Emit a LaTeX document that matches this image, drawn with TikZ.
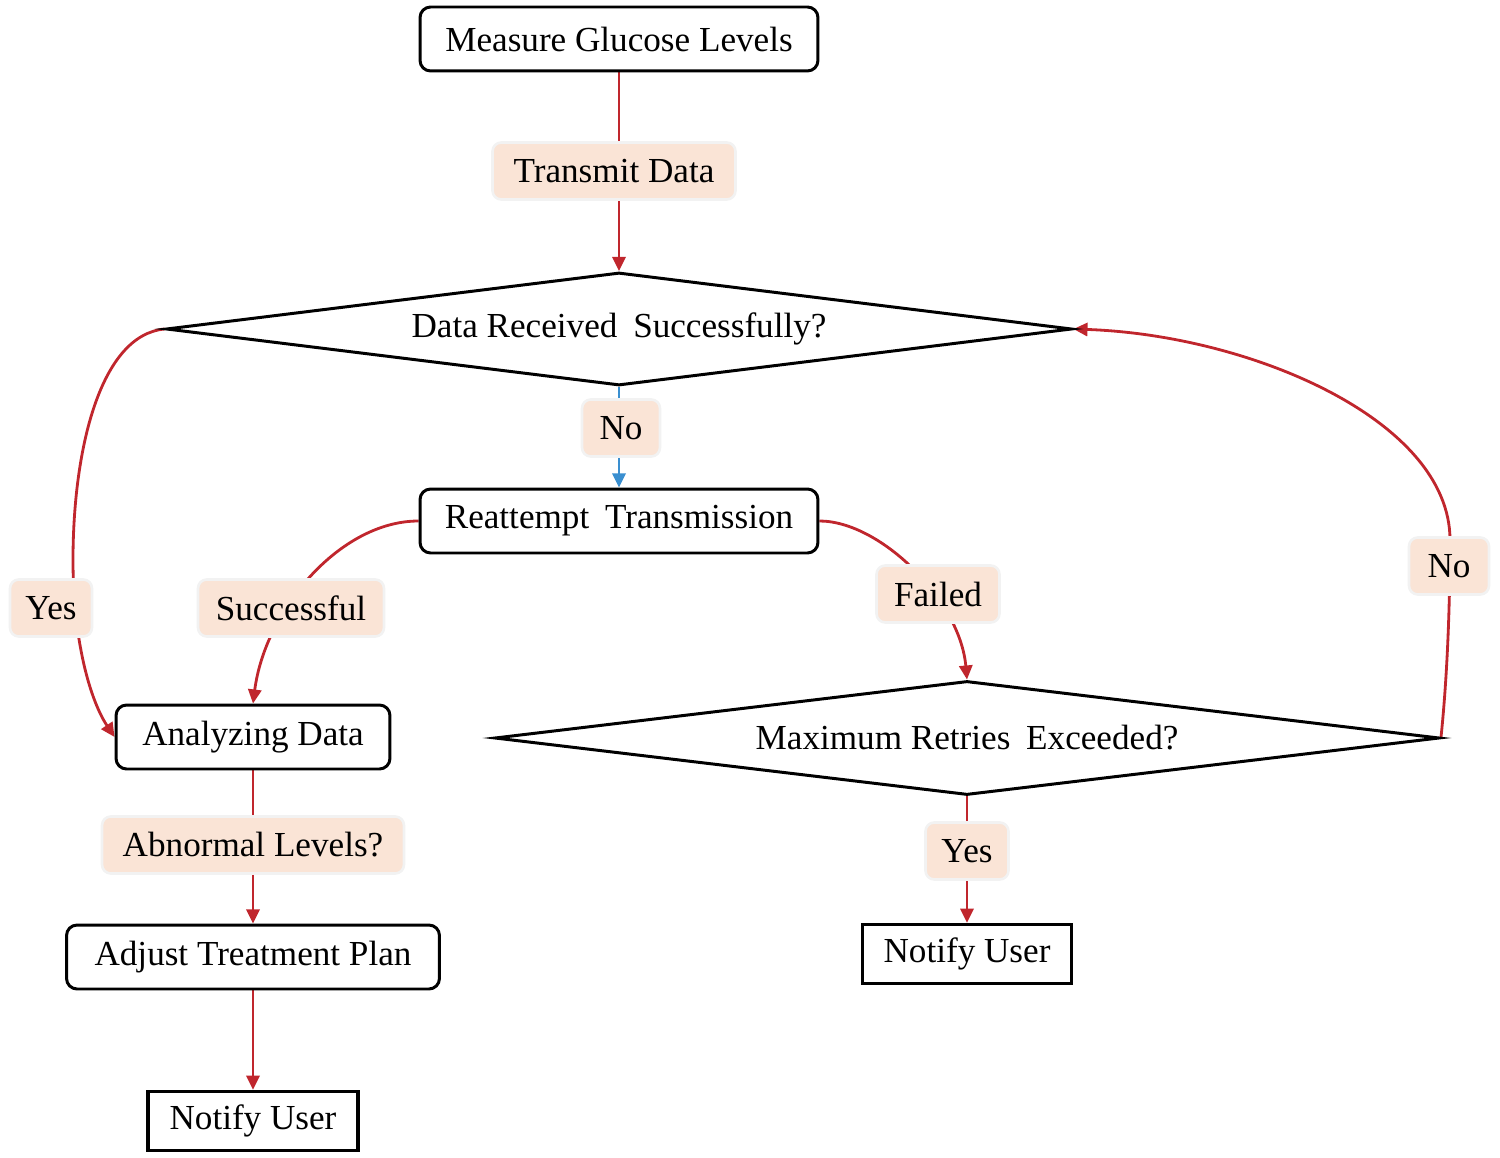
\documentclass[tikz,border=0pt]{standalone}
\usepackage{fontspec}
\setmainfont{Liberation Serif}
\usetikzlibrary{shapes.geometric,arrows.meta}
\definecolor{redline}{HTML}{C0262D}
\definecolor{blueline}{HTML}{3A8FD0}
\definecolor{peach}{HTML}{FAE4D6}
\pgfdeclarelayer{bg}
\pgfsetlayers{bg,main}
\begin{document}
\begin{tikzpicture}[x=0.02cm,y=-0.02cm, font=\fontsize{20}{24}\selectfont,
  box/.style={draw, line width=1.7pt, rounded corners=6pt, fill=white, inner xsep=4pt, minimum height=1.28cm},
  sbox/.style={draw, line width=2pt, fill=white, inner xsep=4pt, minimum height=1.18cm},
  lab/.style={fill=peach, draw=black!5, line width=1.5pt, rounded corners=5pt, inner xsep=4pt, minimum height=1.14cm},
  dia/.style={diamond, draw, line width=1.7pt, aspect=8, inner sep=0pt, fill=white},
  conn/.style={draw=redline, line width=1.6pt},
  arr/.style={conn, -{Triangle[length=8pt,width=7.5pt]}},
  barr/.style={draw=blueline, line width=1.6pt, -{Triangle[length=8pt,width=7.5pt]}}]
\useasboundingbox (0,0) rectangle (1500,1158);

\node[box, minimum width=7.96cm] (meas) at (619,39) {Measure Glucose Levels};
\node[lab, minimum width=4.86cm] (trans) at (614,171) {Transmit Data};
\node[dia, minimum width=18.12cm, minimum height=2.26cm] (d1) at (619,329) {Data Received\hspace{4pt} Successfully?};
\node[lab, minimum width=1.56cm] (no1) at (621,428) {No};
\node[box, minimum width=7.96cm] (reat) at (619,521) {Reattempt\hspace{4pt} Transmission};
\node[lab, minimum width=1.64cm] (yes1) at (51,608) {Yes};
\node[lab, minimum width=3.72cm] (succ) at (291,608) {Successful};
\node[box, minimum width=5.48cm] (ana) at (253,737) {Analyzing Data};
\node[lab, minimum width=6.04cm] (abn) at (253,845) {Abnormal Levels?};
\node[box, minimum width=7.46cm] (adj) at (253,957) {Adjust Treatment Plan};
\node[sbox, minimum width=4.2cm] (nu1) at (253,1121) {Notify User};
\node[lab, minimum width=2.46cm] (fail) at (938,594) {Failed};
\node[dia, minimum width=18.9cm, minimum height=2.28cm] (d2) at (967,738) {Maximum Retries\hspace{4pt} Exceeded?};
\node[lab, minimum width=1.66cm] (yes2) at (967,851) {Yes};
\node[sbox, minimum width=4.18cm] (nu2) at (967,954) {Notify User};
\node[lab, minimum width=1.6cm] (no2) at (1449,566) {No};

\begin{pgfonlayer}{bg}
\draw[arr] (meas.south) -- (d1.north);
\draw[barr] (d1.south) -- (reat.north);
\draw[arr] (ana.south) -- (adj.north);
\draw[arr] (adj.south) -- (nu1.north);
\draw[arr] (d2.south) -- (nu2.north);
\draw[arr] (d1.west) .. controls (100,335) and (73,450) .. (73,560) .. controls (73,640) and (90,700) .. (ana.west);
\draw[arr] (reat.west) .. controls (340,521) and (265,610) .. (ana.north);
\draw[arr] (reat.east) .. controls (880,521) and (960,600) .. (d2.north);
\draw[arr] (d2.east) .. controls (1446,690) and (1450,620) .. (1450,540) .. controls (1450,420) and (1250,335) .. (d1.east);
\end{pgfonlayer}
\end{tikzpicture}
\end{document}
